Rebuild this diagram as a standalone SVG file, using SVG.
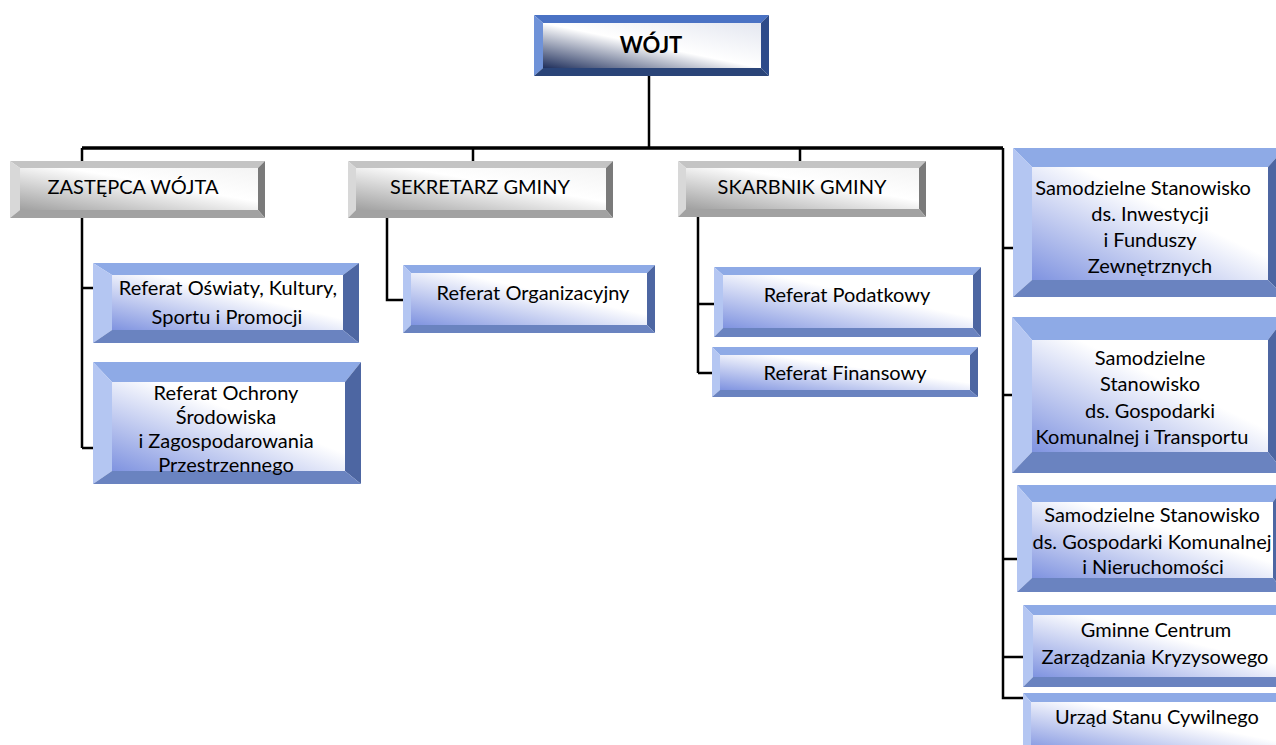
<svg xmlns="http://www.w3.org/2000/svg" width="1276" height="745" viewBox="0 0 1276 745">
<defs>
<linearGradient id="gb" x1="0" y1="1" x2="1" y2="0"><stop offset="0" stop-color="#7f93e0"/><stop offset="0.6" stop-color="#ffffff"/><stop offset="1" stop-color="#ffffff"/></linearGradient>
<linearGradient id="gg" x1="0" y1="1" x2="1" y2="0"><stop offset="0" stop-color="#a0a0a0"/><stop offset="0.6" stop-color="#ffffff"/><stop offset="1" stop-color="#f4f4f4"/></linearGradient>
<linearGradient id="gw" x1="0" y1="1" x2="1" y2="0"><stop offset="0" stop-color="#1f2f5c"/><stop offset="0.5" stop-color="#ffffff"/><stop offset="1" stop-color="#e4e7f0"/></linearGradient>
</defs>
<style>
.b .t{fill:#8eaae6}.b .l{fill:#b4c6f2}.b .r{fill:#4d66a2}.b .bo{fill:#6a83c0}.b .f{fill:url(#gb)}
.g .t{fill:#c4c4c4}.g .l{fill:#d8d8d8}.g .r{fill:#7a7a7a}.g .bo{fill:#a2a2a2}.g .f{fill:url(#gg)}
.w .t{fill:#4a72c4}.w .l{fill:#6f92d8}.w .r{fill:#2d4b8a}.w .bo{fill:#2a4478}.w .f{fill:url(#gw)}
text{font-family:Lato,"Liberation Sans",sans-serif;font-size:20px;fill:#000;text-anchor:middle}
.h{font-size:20px}
.wt{font-size:22px;font-weight:bold}
.c{fill:none;stroke:#000;stroke-width:2.5}
.m{stroke-width:3.5}
</style>
<g id="connectors">
<path class="c" d="M649,76V148"/>
<path class="c m" d="M82,148H1003"/>
<path class="c" d="M473,148V161M800,148V161"/>
<path class="c" d="M82,148V448M82,288H93M82,448H93"/>
<path class="c" d="M387,210V300H403"/>
<path class="c" d="M698,217V373M698,304H714M698,373H712"/>
<path class="c" d="M1003,148V698H1023M1003,248H1013M1003,395H1012M1003,559H1017M1003,657H1023"/>
</g>
<g id="wojt" class="w">
<polygon class="t" points="534,15 769,15 761,23 543,23"/><polygon class="l" points="534,15 543,23 543,68 534,76"/><polygon class="r" points="769,15 769,76 761,68 761,23"/><polygon class="bo" points="534,76 543,68 761,68 769,76"/><rect class="f" x="543" y="23" width="218" height="45"/>
<text class="wt" x="651" y="53">WÓJT</text>
</g>
<g id="zastepca" class="g">
<polygon class="t" points="10,161 265,161 258,168 20,168"/><polygon class="l" points="10,161 20,168 20,210 10,218"/><polygon class="r" points="265,161 265,218 258,210 258,168"/><polygon class="bo" points="10,218 20,210 258,210 265,218"/><rect class="f" x="20" y="168" width="238" height="42"/>
<text class="h" x="133" y="194">ZASTĘPCA WÓJTA</text>
</g>
<g id="sekretarz" class="g">
<polygon class="t" points="348,161 613,161 606,168 356,168"/><polygon class="l" points="348,161 356,168 356,210 348,218"/><polygon class="r" points="613,161 613,218 606,210 606,168"/><polygon class="bo" points="348,218 356,210 606,210 613,218"/><rect class="f" x="356" y="168" width="250" height="42"/>
<text class="h" x="480" y="194">SEKRETARZ GMINY</text>
</g>
<g id="skarbnik" class="g">
<polygon class="t" points="678,161 926,161 919,168 686,168"/><polygon class="l" points="678,161 686,168 686,209 678,217"/><polygon class="r" points="926,161 926,217 919,209 919,168"/><polygon class="bo" points="678,217 686,209 919,209 926,217"/><rect class="f" x="686" y="168" width="233" height="41"/>
<text class="h" x="802" y="194">SKARBNIK GMINY</text>
</g>
<g id="oswiaty" class="b">
<polygon class="t" points="93,263 359,263 343,275 112,275"/><polygon class="l" points="93,263 112,275 112,330 93,343"/><polygon class="r" points="359,263 359,343 343,330 343,275"/><polygon class="bo" points="93,343 112,330 343,330 359,343"/><rect class="f" x="112" y="275" width="231" height="55"/>
<text x="228" y="295">Referat Oświaty, Kultury,</text>
<text x="227" y="324">Sportu i Promocji</text>
</g>
<g id="ochrony" class="b">
<polygon class="t" points="93,362 361,362 345,382 112,382"/><polygon class="l" points="93,362 112,382 112,471 93,484"/><polygon class="r" points="361,362 361,484 345,471 345,382"/><polygon class="bo" points="93,484 112,471 345,471 361,484"/><rect class="f" x="112" y="382" width="233" height="89"/>
<text x="226" y="400">Referat Ochrony</text>
<text x="226" y="424">Środowiska</text>
<text x="226" y="448">i Zagospodarowania</text>
<text x="226" y="472">Przestrzennego</text>
</g>
<g id="organizacyjny" class="b">
<polygon class="t" points="403,265 655,265 647,273 411,273"/><polygon class="l" points="403,265 411,273 411,325 403,333"/><polygon class="r" points="655,265 655,333 647,325 647,273"/><polygon class="bo" points="403,333 411,325 647,325 655,333"/><rect class="f" x="411" y="273" width="236" height="52"/>
<text x="533" y="300">Referat Organizacyjny</text>
</g>
<g id="podatkowy" class="b">
<polygon class="t" points="714,267 981,267 973,275 723,275"/><polygon class="l" points="714,267 723,275 723,328 714,337"/><polygon class="r" points="981,267 981,337 973,328 973,275"/><polygon class="bo" points="714,337 723,328 973,328 981,337"/><rect class="f" x="723" y="275" width="250" height="53"/>
<text x="847" y="302">Referat Podatkowy</text>
</g>
<g id="finansowy" class="b">
<polygon class="t" points="712,347 978,347 970,355 720,355"/><polygon class="l" points="712,347 720,355 720,390 712,397"/><polygon class="r" points="978,347 978,397 970,390 970,355"/><polygon class="bo" points="712,397 720,390 970,390 978,397"/><rect class="f" x="720" y="355" width="250" height="35"/>
<text x="845" y="380">Referat Finansowy</text>
</g>
<g id="inwestycje" class="b">
<polygon class="t" points="1013,148 1285,148 1268,167 1032,167"/><polygon class="l" points="1013,148 1032,167 1032,280 1013,297"/><polygon class="r" points="1285,148 1285,297 1268,280 1268,167"/><polygon class="bo" points="1013,297 1032,280 1268,280 1285,297"/><rect class="f" x="1032" y="167" width="236" height="113"/>
<text x="1143" y="195">Samodzielne Stanowisko</text>
<text x="1150" y="221">ds. Inwestycji</text>
<text x="1150" y="247">i Funduszy</text>
<text x="1150" y="273">Zewnętrznych</text>
</g>
<g id="transport" class="b">
<polygon class="t" points="1012,317 1285,317 1268,340 1032,340"/><polygon class="l" points="1012,317 1032,340 1032,452 1012,473"/><polygon class="r" points="1285,317 1285,473 1268,452 1268,340"/><polygon class="bo" points="1012,473 1032,452 1268,452 1285,473"/><rect class="f" x="1032" y="340" width="236" height="112"/>
<text x="1150" y="365">Samodzielne</text>
<text x="1150" y="391">Stanowisko</text>
<text x="1150" y="418">ds. Gospodarki</text>
<text x="1142" y="444">Komunalnej i Transportu</text>
</g>
<g id="nieruchomosci" class="b">
<polygon class="t" points="1017,485 1285,485 1273,502 1032,502"/><polygon class="l" points="1017,485 1032,502 1032,578 1017,592"/><polygon class="r" points="1285,485 1285,592 1273,578 1273,502"/><polygon class="bo" points="1017,592 1032,578 1273,578 1285,592"/><rect class="f" x="1032" y="502" width="241" height="76"/>
<text x="1152" y="522">Samodzielne Stanowisko</text>
<text x="1152" y="549">ds. Gospodarki Komunalnej</text>
<text x="1153" y="574">i Nieruchomości</text>
</g>
<g id="kryzys" class="b">
<polygon class="t" points="1023,605 1290,605 1280,615 1033,615"/><polygon class="l" points="1023,605 1033,615 1033,677 1023,687"/><polygon class="r" points="1290,605 1290,687 1280,677 1280,615"/><polygon class="bo" points="1023,687 1033,677 1280,677 1290,687"/><rect class="f" x="1033" y="615" width="247" height="62"/>
<text x="1156" y="637">Gminne Centrum</text>
<text x="1155" y="664">Zarządzania Kryzysowego</text>
</g>
<g id="usc" class="b">
<polygon class="t" points="1023,693 1290,693 1282,702 1031,702"/><polygon class="l" points="1023,693 1031,702 1031,752 1023,760"/><polygon class="r" points="1290,693 1290,760 1282,752 1282,702"/><polygon class="bo" points="1023,760 1031,752 1282,752 1290,760"/><rect class="f" x="1031" y="702" width="251" height="50"/>
<text x="1157" y="724">Urząd Stanu Cywilnego</text>
</g>
</svg>
